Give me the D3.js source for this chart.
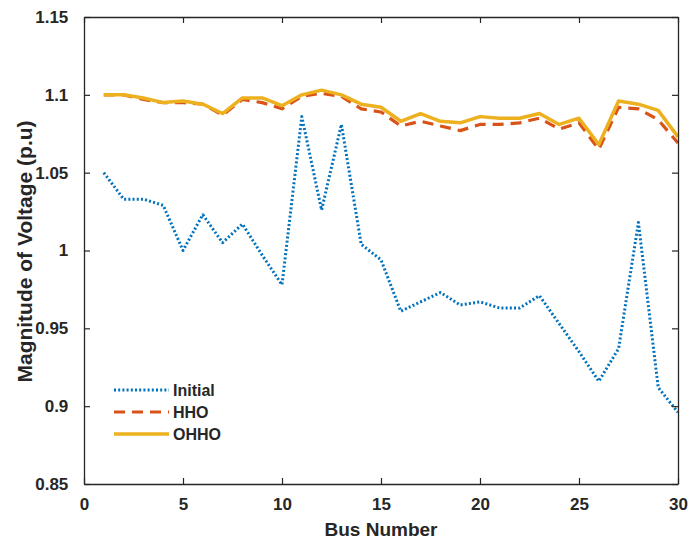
<!DOCTYPE html>
<html>
<head>
<meta charset="utf-8">
<script src="https://cdn.jsdelivr.net/npm/d3@7"></script>
<style>
  body { margin: 0; background: #fff; }
  text { font-family: "Liberation Sans", Arial, sans-serif; font-weight: bold; fill: #262626; }
</style>
</head>
<body>
<svg></svg>
<script>
const width = 690;
const height = 545;
const margin = { top: 17, right: 12, bottom: 61, left: 84 };

// Bus numbers 1..30
const buses = d3.range(1, 31);

const initialV = [1.050, 1.033, 1.033, 1.029, 1.000, 1.023, 1.005, 1.017, 0.997, 0.978,
                  1.086, 1.026, 1.081, 1.004, 0.994, 0.961, 0.967, 0.973, 0.965, 0.967,
                  0.963, 0.963, 0.971, 0.953, 0.935, 0.916, 0.937, 1.018, 0.912, 0.896];
const hhoV = [1.100, 1.100, 1.097, 1.095, 1.095, 1.094, 1.087, 1.097, 1.095, 1.091,
              1.099, 1.101, 1.099, 1.091, 1.089, 1.080, 1.083, 1.080, 1.077, 1.081,
              1.081, 1.082, 1.085, 1.078, 1.082, 1.065, 1.092, 1.091, 1.084, 1.069];
const ohhoV = [1.100, 1.100, 1.098, 1.095, 1.096, 1.094, 1.088, 1.098, 1.098, 1.093,
               1.100, 1.103, 1.100, 1.094, 1.092, 1.083, 1.088, 1.083, 1.082, 1.086,
               1.085, 1.085, 1.088, 1.081, 1.085, 1.068, 1.096, 1.094, 1.090, 1.073];

const seriesNames = ["Initial", "HHO", "OHHO"];
const xTicks = [0, 5, 10, 15, 20, 25, 30];
const yTicks = [0.85, 0.9, 0.95, 1, 1.05, 1.1, 1.15];
const yTickLabels = ["0.85", "0.9", "0.95", "1", "1.05", "1.1", "1.15"];

const series = [
    { name: seriesNames[0], values: initialV, color: "#0072BD", dash: "2,2.2", w: 3 },
    { name: seriesNames[1], values: hhoV, color: "#D95319", dash: "11,7", w: 3.2 },
    { name: seriesNames[2], values: ohhoV, color: "#EDB120", dash: null, w: 3.5 }
];

const svg = d3.select("svg")
    .attr("width", width)
    .attr("height", height);

const x = d3.scaleLinear().domain([0, 30]).range([margin.left, width - margin.right]);
const y = d3.scaleLinear().domain([0.85, 1.15]).range([height - margin.bottom, margin.top]);

// Lines
const line = d3.line()
    .x((d, i) => x(buses[i]))
    .y(d => y(d));

svg.append("g")
    .selectAll("path")
    .data(series)
    .join("path")
    .attr("d", d => line(d.values))
    .attr("fill", "none")
    .attr("stroke", d => d.color)
    .attr("stroke-width", d => d.w)
    .attr("stroke-dasharray", d => d.dash)
    .attr("stroke-linejoin", "round");

// Axes (ticks pointing inward, box on)
const axisColor = "#262626";
const tickLen = 6;

const xAxis = svg.append("g")
    .attr("transform", `translate(0,${height - margin.bottom})`)
    .call(d3.axisBottom(x).tickValues(xTicks).tickSizeInner(-tickLen).tickSizeOuter(0).tickPadding(14));
const xTop = svg.append("g")
    .attr("transform", `translate(0,${margin.top})`)
    .call(d3.axisTop(x).tickValues(xTicks).tickSizeInner(-tickLen).tickSizeOuter(0).tickFormat(""));
const yAxis = svg.append("g")
    .attr("transform", `translate(${margin.left},0)`)
    .call(d3.axisLeft(y).tickValues(yTicks).tickSizeInner(-tickLen).tickSizeOuter(0).tickPadding(14)
        .tickFormat((d, i) => yTickLabels[i]));
const yRight = svg.append("g")
    .attr("transform", `translate(${width - margin.right},0)`)
    .call(d3.axisRight(y).tickValues(yTicks).tickSizeInner(-tickLen).tickSizeOuter(0).tickFormat(""));

[xAxis, xTop, yAxis, yRight].forEach(g => {
    g.select(".domain").attr("stroke", axisColor).attr("stroke-width", 1.3);
    g.selectAll(".tick line").attr("stroke", axisColor).attr("stroke-width", 1.2);
    g.selectAll(".tick text")
        .attr("font-size", 17)
        .attr("font-family", "'Liberation Sans', Arial, sans-serif")
        .attr("font-weight", "bold")
        .attr("fill", "#262626");
});
yAxis.selectAll(".tick text").attr("dx", "-0.1em");

// Axis titles
svg.append("text")
    .attr("x", (margin.left + width - margin.right) / 2)
    .attr("y", 536)
    .attr("text-anchor", "middle")
    .attr("font-size", 19)
    .text("Bus Number");

svg.append("text")
    .attr("transform", `translate(32,${(margin.top + height - margin.bottom) / 2 + 1}) rotate(-90)`)
    .attr("text-anchor", "middle")
    .attr("font-size", 21)
    .text("Magnitude of Voltage (p.u)");

// Legend (no box)
const legend = svg.append("g").attr("transform", "translate(114,390)");
const rows = legend.selectAll("g")
    .data(series)
    .join("g")
    .attr("transform", (d, i) => `translate(0,${i * 22})`);
rows.append("line")
    .attr("x1", 0).attr("x2", 55)
    .attr("stroke", d => d.color)
    .attr("stroke-width", d => d.w)
    .attr("stroke-dasharray", d => d.dash);
rows.append("text")
    .attr("x", 59)
    .attr("dy", "0.36em")
    .attr("font-size", 16)
    .text(d => d.name);
</script>
</body>
</html>
